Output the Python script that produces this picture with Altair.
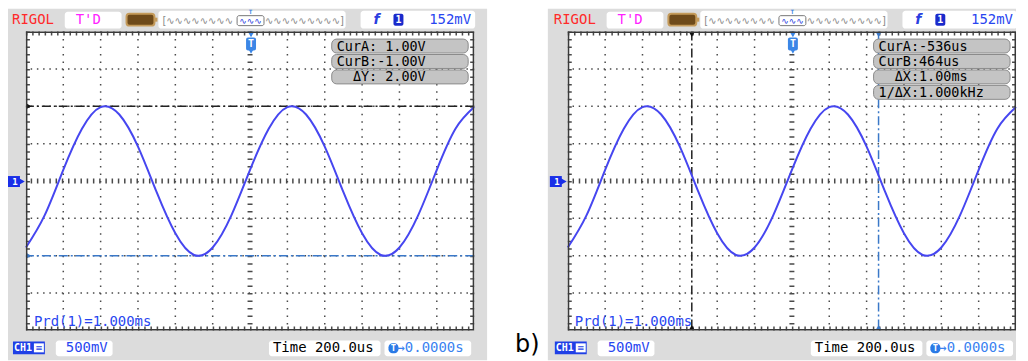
import altair as alt
import pandas as pd

# ---------------- data ----------------
T_US = [-1200, -1100, -1000, -900, -800, -700, -600, -500, -400, -300, -200, -100,
        0, 100, 200, 300, 400, 500, 600, 700, 800, 900, 1000, 1100, 1200]
V_CH1 = [-0.89, -0.46, 0.15, 0.70, 0.99, 0.89, 0.46, -0.15, -0.70, -0.99, -0.89, -0.46,
         0.15, 0.70, 0.99, 0.89, 0.46, -0.15, -0.70, -0.99, -0.89, -0.46, 0.15, 0.70, 0.99]
GRID_T = [-1000, -800, -600, -400, -200, 200, 400, 600, 800, 1000]
GRID_V = [-1.5, -1.0, -0.5, 0.5, 1.0, 1.5]
CUR_A_V, CUR_B_V = [1.0], [-1.0]
CUR_A_T, CUR_B_T = [-536], [464]
# (indent in characters, text)
LEFT_INFO = [(0, "CurA: 1.00V"), (0, "CurB:-1.00V"), (2, "ΔY: 2.00V")]
RIGHT_INFO = [(0, "CurA:-536us"), (0, "CurB:464us"), (2, "ΔX:1.00ms"), (0, "1/ΔX:1.000kHz")]
PRD_TEXT = "Prd(1)=1.000ms"
TRIG_LEVEL = "152mV"
VOLT_DIV = "500mV"
TIME_DIV = "Time 200.0us"
TRIG_POS = "→0.0000s"

# ---------------- style ----------------
W, H = 450, 300
MONO = "DejaVu Sans Mono"
GREY = "#dcdcdc"
GRIDC = "#4a4a4a"
WAVE = "#4646f0"
BLUE_TXT = "#2846f0"
CUR_BLUE = "#3a78c8"
TRIG_BLUE = "#3b86e6"
INFO_SIZE = 13.5
xs = alt.Scale(domain=[-1200, 1200], nice=False, zero=False)
ys = alt.Scale(domain=[-2, 2], nice=False, zero=False)
ONE = alt.Data(values=[{"k": 0}])
wave_df = pd.DataFrame({"t": T_US, "v": V_CH1})


def vrect(x, x2, y, y2, **kw):
    return alt.Chart(ONE).mark_rect(**kw).encode(
        x=alt.value(x), x2=alt.value(x2), y=alt.value(y), y2=alt.value(y2))


def vrule(x, x2, y, y2, **kw):
    return alt.Chart(ONE).mark_rule(**kw).encode(
        x=alt.value(x), x2=alt.value(x2), y=alt.value(y), y2=alt.value(y2))


def vtext(x, y, s, size=14, color="black", align="left", font=MONO, **kw):
    return alt.Chart(ONE).mark_text(align=align, baseline="middle", font=font,
                                    fontSize=size, color=color, **kw).encode(
        x=alt.value(x), y=alt.value(y), text=alt.value(s))


def vpoint(x, y, shape, size, color):
    return alt.Chart(ONE).mark_point(shape=shape, size=size, filled=True, opacity=1,
                                     color=color).encode(x=alt.value(x), y=alt.value(y))


def panel(kind):
    L = []
    if kind == "a":
        L.append(vrect(-18, 463, -23, 330, fill=GREY))
    else:
        L.append(vrect(-20, 450, -23, 330, fill=GREY))
        L.append(vtext(-53, 315, "b)", size=24, font="DejaVu Sans"))
    L.append(vrect(0, W, 0, H, fill="white"))

    # header
    L.append(vtext(-14, -12, "RIGOL", color="#ff2a2a"))
    L.append(vrect(39, 96, -20, -3, fill="white", cornerRadius=3))
    L.append(vtext(50, -12, "T'D", color="#ff22ff"))
    L.append(vrect(101, 129, -18, -6, fill="#6e4a1a", stroke="#c49a5a", strokeWidth=2, cornerRadius=3))
    L.append(vrect(129, 132, -14, -10, fill="#c49a5a"))
    L.append(vrect(133, 321, -21, -3, fill="white", cornerRadius=3))
    L.append(vtext(137, -11, "[" + "∿" * 8, size=10, color="#8a8a8a", font="DejaVu Sans"))
    L.append(vtext(240, -11, "∿" * 9 + "]", size=10, color="#8a8a8a", font="DejaVu Sans"))
    L.append(vrect(212, 239, -16, -6, fill="white", stroke="#777777", strokeWidth=1, cornerRadius=2))
    L.append(vtext(225.5, -11, "∿∿∿", size=9, color="#2a40e0", align="center", font="DejaVu Sans"))
    L.append(vtext(225.5, -19.5, "T", size=6, color=TRIG_BLUE, align="center", fontWeight="bold"))
    L.append(vrect(336, 451, -21, -3, fill="white", cornerRadius=3))
    L.append(vtext(352, -12, "f", size=14, color="#2a40e0", align="center", fontWeight="bold",
                   fontStyle="italic", font="DejaVu Sans"))
    L.append(vrect(369, 379, -18, -6, fill="#1a2acc", cornerRadius=2))
    L.append(vtext(374, -12, "1", size=10, color="white", align="center", fontWeight="bold"))
    L.append(vtext(447, -12, TRIG_LEVEL, color=BLUE_TXT, align="right"))

    # footer
    L.append(vrect(-13, 19, 311, 324, fill="#1f3fe6"))
    L.append(vtext(-12, 317.5, "CH1", size=10, color="white", fontWeight="bold"))
    L.append(vrect(8, 18, 313, 322, fill="white"))
    L.append(vtext(13, 317.5, "≡", size=9, color="#1f3fe6", align="center", font="DejaVu Sans"))
    L.append(vrect(30, 87, 310, 326, fill="white", cornerRadius=3))
    L.append(vtext(40, 318, VOLT_DIV, color=BLUE_TXT))
    L.append(vrect(244, 356, 310, 326, fill="white", cornerRadius=3))
    L.append(vtext(248, 318, TIME_DIV))
    L.append(vrect(360, 447, 310, 326, fill="white", cornerRadius=3))
    L.append(vrect(364, 374, 313, 323, fill="#2a7ae6", cornerRadius=4))
    L.append(vtext(369, 318, "T", size=9, color="white", align="center", fontWeight="bold"))
    L.append(vtext(372, 318, TRIG_POS, color="#3a82f0"))

    # channel marker
    L.append(vrect(-18, -6, 145, 156, fill="#1a2fe8"))
    L.append(vpoint(-4, 150.5, "triangle-right", 45, "#1a2fe8"))
    L.append(vtext(-11, 150.5, "1", size=9, color="white", align="center", fontWeight="bold"))

    # grid
    L.append(alt.Chart(pd.DataFrame({"t": GRID_T})).mark_rule(
        color=GRIDC, strokeWidth=1.5, strokeDash=[1.5, 6]).encode(
        x=alt.X("t:Q", scale=xs, axis=None)))
    L.append(alt.Chart(pd.DataFrame({"v": GRID_V})).mark_rule(
        color=GRIDC, strokeWidth=1.5, strokeDash=[1.5, 4.75]).encode(
        y=alt.Y("v:Q", scale=ys, axis=None)))
    L.append(alt.Chart(pd.DataFrame({"t": [0]})).mark_rule(
        color=GRIDC, strokeWidth=5, strokeDash=[1.5, 6]).encode(
        x=alt.X("t:Q", scale=xs, axis=None)))
    L.append(alt.Chart(pd.DataFrame({"v": [0.0]})).mark_rule(
        color=GRIDC, strokeWidth=5, strokeDash=[1.5, 4.75]).encode(
        y=alt.Y("v:Q", scale=ys, axis=None)))
    # border ticks
    L.append(vrule(0, W, 2, 2, color=GRIDC, strokeWidth=4, strokeDash=[1.5, 4.75]))
    L.append(vrule(0, W, H - 2, H - 2, color=GRIDC, strokeWidth=4, strokeDash=[1.5, 4.75]))
    L.append(vrule(2, 2, 0, H, color=GRIDC, strokeWidth=4, strokeDash=[1.5, 6]))
    L.append(vrule(W - 2, W - 2, 0, H, color=GRIDC, strokeWidth=4, strokeDash=[1.5, 6]))

    # cursors
    dash = [9, 3, 2, 3]
    if kind == "a":
        L.append(alt.Chart(pd.DataFrame({"v": CUR_A_V})).mark_rule(
            color="#222222", strokeWidth=1.5, strokeDash=dash).encode(
            y=alt.Y("v:Q", scale=ys, axis=None)))
        L.append(alt.Chart(pd.DataFrame({"v": CUR_B_V})).mark_rule(
            color=CUR_BLUE, strokeWidth=1.5, strokeDash=dash).encode(
            y=alt.Y("v:Q", scale=ys, axis=None)))
    else:
        L.append(alt.Chart(pd.DataFrame({"t": CUR_A_T})).mark_rule(
            color="#222222", strokeWidth=1.5, strokeDash=dash).encode(
            x=alt.X("t:Q", scale=xs, axis=None)))
        L.append(alt.Chart(pd.DataFrame({"t": CUR_B_T})).mark_rule(
            color=CUR_BLUE, strokeWidth=1.5, strokeDash=dash).encode(
            x=alt.X("t:Q", scale=xs, axis=None)))

    # waveform
    L.append(alt.Chart(wave_df).mark_line(interpolate="natural", color=WAVE, strokeWidth=2).encode(
        x=alt.X("t:Q", scale=xs, axis=None), y=alt.Y("v:Q", scale=ys, axis=None)))

    # cursor markers
    if kind == "a":
        for vals, col in ((CUR_A_V, "#111111"), (CUR_B_V, CUR_BLUE)):
            L.append(alt.Chart(pd.DataFrame({"v": vals})).mark_point(
                shape="triangle-right", size=30, filled=True, opacity=1, color=col).encode(
                x=alt.value(3), y=alt.Y("v:Q", scale=ys, axis=None)))
    else:
        for vals, col in ((CUR_A_T, "#111111"), (CUR_B_T, CUR_BLUE)):
            L.append(alt.Chart(pd.DataFrame({"t": vals})).mark_point(
                shape="triangle-down", size=30, filled=True, opacity=1, color=col).encode(
                x=alt.X("t:Q", scale=xs, axis=None), y=alt.value(3)))
            L.append(alt.Chart(pd.DataFrame({"t": vals})).mark_point(
                shape="triangle-up", size=30, filled=True, opacity=1, color=col).encode(
                x=alt.X("t:Q", scale=xs, axis=None), y=alt.value(H - 3)))

    # trigger position marker
    L.append(vpoint(226, 3, "triangle-down", 40, TRIG_BLUE))
    L.append(vrect(221, 231, 6, 19, fill=TRIG_BLUE, cornerRadius=2))
    L.append(vpoint(226, 20, "triangle-down", 25, TRIG_BLUE))
    L.append(vtext(226, 12.5, "T", size=10, color="white", align="center", fontWeight="bold"))

    # cursor info boxes
    info = LEFT_INFO if kind == "a" else RIGHT_INFO
    cw = INFO_SIZE * 0.602
    for i, (indent, s) in enumerate(info):
        y0 = 7.5 + 15.5 * i
        L.append(vrect(307, 444, y0, y0 + 14, fill="#c4c4c4", stroke="#8a8a8a",
                       strokeWidth=1, cornerRadius=5))
        L.append(vtext(312 + indent * cw, y0 + 7.5, s, size=INFO_SIZE))

    # period readout
    L.append(vtext(8 if kind == "a" else 7, 292, PRD_TEXT, color=BLUE_TXT))

    # frame (kept inside the plot so the page is not rescaled)
    L.append(vrect(0.75, W - 0.75, 0.75, H - 0.75, fillOpacity=0, stroke="#3a3a3a", strokeWidth=1.5))
    return alt.layer(*L).properties(width=W, height=H)


chart = alt.hconcat(panel("a"), panel("b"), spacing=94, bounds="flush").properties(
    padding={"left": 0, "top": 0, "right": 0, "bottom": 0}
).configure_view(stroke=None)

chart.save("out.html", embed_options={"renderer": "svg", "actions": False})
